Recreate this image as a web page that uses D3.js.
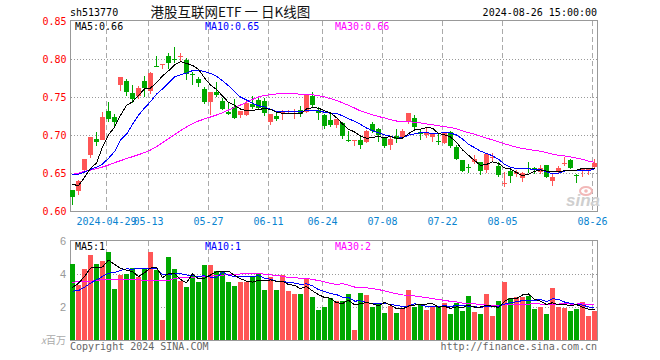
<!DOCTYPE html>
<html><head><meta charset="utf-8">
<script src="https://cdn.jsdelivr.net/npm/d3@7/dist/d3.min.js"></script>
<style>body{margin:0;background:#fff}svg{display:block}</style>
</head><body><svg id="c" width="660" height="360"></svg>
<script>
const dates = ["2024-04-19","2024-04-22","2024-04-23","2024-04-24","2024-04-25","2024-04-26","2024-04-29","2024-04-30",
"2024-05-06","2024-05-07","2024-05-08","2024-05-09","2024-05-10","2024-05-13","2024-05-14","2024-05-15","2024-05-16","2024-05-17",
"2024-05-20","2024-05-21","2024-05-22","2024-05-23","2024-05-24","2024-05-27","2024-05-28","2024-05-29","2024-05-30","2024-05-31",
"2024-06-03","2024-06-04","2024-06-05","2024-06-06","2024-06-07","2024-06-11","2024-06-12","2024-06-13","2024-06-14",
"2024-06-17","2024-06-18","2024-06-19","2024-06-20","2024-06-21","2024-06-24","2024-06-25","2024-06-26","2024-06-27","2024-06-28",
"2024-07-01","2024-07-02","2024-07-03","2024-07-04","2024-07-05","2024-07-08","2024-07-09","2024-07-10","2024-07-11","2024-07-12",
"2024-07-15","2024-07-16","2024-07-17","2024-07-18","2024-07-19","2024-07-22","2024-07-23","2024-07-24","2024-07-25","2024-07-26",
"2024-07-29","2024-07-30","2024-07-31","2024-08-01","2024-08-02","2024-08-05","2024-08-06","2024-08-07","2024-08-08","2024-08-09",
"2024-08-12","2024-08-13","2024-08-14","2024-08-15","2024-08-16","2024-08-19","2024-08-20","2024-08-21","2024-08-22","2024-08-23","2024-08-26"];

const open = [.6276,.6268,.654,.6737,.6952,.6934,.7316,.7232,.7658,.771,.7548,.7513,.771,.7579,.7912,.7917,.804,.8004,.8038,.7987,
.7800,.7737,.7605,.7439,.7561,.7452,.7307,.7373,.7263,.7263,.7404,.746,.7447,.7175,.725,.7303,.7313,.7282,.7329,.7307,
.7518,.7329,.7263,.7197,.7132,.7154,.6938,.6921,.6934,.6912,.714,.7075,.6956,.6868,.6987,.6978,.7162,.7219,.7039,.7,
.6978,.6925,.6899,.7035,.6846,.6671,.6574,.6649,.664,.6539,.6702,.6592,.637,.6526,.6496,.6443,.6565,.6564,.6504,.6605,
.6386,.6518,.6632,.6671,.6478,.6531,.6548,.6583];
const high = [.628,.6408,.6684,.6974,.7035,.7307,.7434,.7276,.7759,.7732,.7658,.7645,.7776,.7833,.804,.7934,.8083,.8154,.8075,.8009,
.7833,.7768,.7636,.757,.7702,.7482,.7439,.7469,.732,.7447,.7513,.7513,.7482,.7276,.7294,.7329,.7333,.7342,.7382,.7526,
.757,.7373,.7276,.7276,.7211,.7175,.7057,.6934,.6978,.7066,.7175,.7088,.6978,.6978,.7075,.7075,.7285,.7263,.7066,.7088,
.7026,.7022,.7044,.7057,.6868,.6671,.6618,.6737,.6649,.675,.6759,.6649,.6518,.6561,.654,.6518,.6649,.6583,.6605,.6605,
.6496,.6592,.6715,.668,.6482,.6561,.6561,.6684];
const low = [.6079,.621,.652,.6693,.6855,.6934,.7175,.711,.7579,.7513,.7425,.747,.7504,.754,.791,.7873,.7873,.7943,.7978,.7724,
.7658,.7636,.7408,.7263,.7504,.7329,.7263,.7206,.7219,.725,.7342,.7329,.725,.7132,.7184,.7197,.7281,.721,.7241,.7294,
.7373,.7197,.7075,.7101,.7088,.6943,.6912,.6855,.6816,.689,.7022,.6912,.6825,.6803,.6899,.6956,.7145,.7066,.6934,.6965,
.6904,.6868,.6882,.6825,.6671,.6518,.6504,.6618,.6474,.6496,.6649,.6443,.6311,.6373,.6443,.6386,.6496,.6487,.6487,.643,
.6333,.6496,.6592,.6548,.6373,.6443,.6474,.6561];
const close = [.6189,.6395,.6684,.6974,.6917,.7237,.7211,.7167,.7759,.757,.7474,.7614,.7623,.7811,.791,.7934,.7943,.8000,.804,.7798,
.7798,.7689,.743,.757,.7518,.7351,.7285,.7232,.732,.7417,.7364,.7351,.7285,.7276,.7211,.7307,.7316,.7285,.7276,.7526,
.7395,.7285,.7118,.7132,.7211,.6987,.6934,.6934,.6868,.7057,.7044,.7000,.6855,.6947,.6943,.7053,.7285,.7101,.7009,.7035,
.7026,.6921,.7031,.6855,.6684,.6531,.657,.6684,.6526,.675,.6706,.6474,.6373,.646,.6518,.6504,.6561,.656,.6561,.6443,
.6443,.657,.6636,.6561,.6474,.6561,.6553,.6636];
const ma5 = [.6351,.6333,.6443,.6561,.6632,.6841,.7005,.7101,.7258,.7389,.7436,.7517,.7608,.7618,.7686,.7778,.7844,.792,.7965,.7943,
.7916,.7865,.7751,.7657,.7601,.7512,.7431,.7391,.7341,.7321,.7324,.7337,.7347,.7339,.7297,.7286,.7279,.7279,.7279,.7342,
.736,.7353,.732,.7291,.7228,.7147,.7076,.704,.6987,.6956,.6967,.6981,.6965,.6981,.6958,.696,.7017,.7066,.7078,.7097,
.7091,.7018,.7004,.6974,.6903,.6804,.6734,.6665,.6599,.6612,.6647,.6628,.6566,.6553,.6506,.6466,.6483,.6521,.6541,.6526,
.6514,.6515,.6531,.6531,.6537,.656,.6557,.6557];
const ma10 = [.6474,.6482,.6513,.6548,.6575,.6618,.6693,.6781,.6934,.701,.7139,.7261,.7355,.7438,.7538,.7607,.7681,.7764,.7792,.7815,
.7847,.7855,.7835,.7811,.7772,.7714,.7648,.7571,.7499,.7461,.7418,.7384,.7369,.734,.7309,.7305,.7308,.7313,.7309,.732,
.7323,.7316,.73,.7285,.7285,.7253,.7215,.718,.7139,.7092,.7057,.7029,.7002,.6984,.6957,.6964,.6999,.7015,.7029,.7027,
.7025,.7018,.7035,.7026,.70,.6948,.6876,.6835,.6786,.6758,.6726,.6681,.6615,.6576,.6559,.6557,.6556,.6543,.6547,.6516,
.649,.6499,.6526,.6536,.6531,.6537,.6536,.6544];
const ma30 = [.6482,.6496,.6522,.6539,.6557,.6579,.6605,.6636,.6662,.6689,.6715,.6741,.6768,.6803,.6846,.6899,.6952,.7004,.7057,.7105,
.7149,.7184,.7211,.7237,.7263,.7294,.7329,.7364,.7395,.7429,.7468,.75,.752,.753,.754,.7542,.7545,.7549,.7533,.7532,
.7529,.7518,.7501,.7479,.7455,.7424,.739,.7355,.7316,.7291,.7266,.7243,.7224,.7203,.7184,.7174,.7174,.7169,.7159,.7146,
.7135,.7121,.7112,.7098,.7081,.7055,.703,.701,.6985,.6959,.6936,.6909,.6884,.6862,.6839,.6823,.681,.6798,.6787,.6767,
.6747,.6733,.6725,.6712,.6697,.668,.6656,.6641];
const volume = [4.58,3.34,4.32,5.13,4.58,4.80,5.35,3.10,3.91,4.03,4.38,3.79,4.30,5.31,4.26,1.22,5.05,4.28,3.55,3.22,
3.95,3.49,4.52,4.52,4.19,4.11,3.49,3.28,3.49,3.49,3.81,4.09,3.04,3.79,3.04,3.91,3.00,2.80,2.80,3.69,
2.63,1.82,1.97,2.53,2.37,2.37,2.80,0.61,2.86,2.74,1.97,2.19,1.64,2.07,1.64,1.86,3.04,1.97,2.19,1.82,
1.97,1.99,2.25,1.58,2.27,1.78,2.67,1.70,1.58,2.80,1.46,2.37,3.53,2.55,2.61,2.61,2.67,1.88,2.01,1.58,
3.16,2.01,1.95,1.76,1.88,2.31,1.46,1.76];
const volMa5 = [3.18,3.44,3.85,4.36,4.39,4.43,4.84,4.59,4.35,4.24,4.15,3.84,4.08,4.36,4.41,3.78,4.03,4.02,3.67,3.46,
4.01,3.70,3.75,3.94,4.13,4.17,4.17,3.92,3.71,3.57,3.51,3.63,3.58,3.64,3.55,3.57,3.36,3.31,3.11,3.24,
2.98,2.75,2.58,2.53,2.26,2.21,2.41,2.14,2.20,2.28,2.20,2.07,2.28,2.12,1.90,1.88,2.05,2.12,2.14,2.18,
2.20,1.99,2.04,1.92,2.01,1.97,2.11,2.00,2.00,2.11,2.04,1.98,2.35,2.54,2.50,2.73,2.79,2.46,2.36,2.15,
2.26,2.13,2.14,2.09,2.15,1.98,1.87,1.83];
const volMa10 = [2.96,3.0,3.2,3.44,3.65,3.85,4.05,4.09,4.21,4.31,4.29,4.34,4.34,4.36,4.32,3.97,3.94,4.05,4.02,3.94,
3.89,3.86,3.89,3.81,3.80,4.09,3.93,3.83,3.83,3.85,3.84,3.90,3.75,3.68,3.56,3.54,3.49,3.45,3.38,3.40,
3.28,3.05,2.95,2.82,2.75,2.60,2.58,2.36,2.37,2.27,2.20,2.24,2.21,2.16,2.09,2.04,2.06,2.20,2.13,2.04,
2.04,2.02,2.08,2.03,2.09,2.09,2.05,2.02,1.96,2.06,2.01,2.05,2.17,2.27,2.31,2.39,2.39,2.41,2.45,2.33,
2.50,2.46,2.30,2.22,2.15,2.12,2.00,1.99];
const volMa30 = [3.51,3.52,3.54,3.56,3.60,3.67,3.69,3.66,3.65,3.65,3.64,3.64,3.63,3.63,3.62,3.62,3.61,3.73,3.77,3.79,
3.81,3.83,3.85,3.87,3.89,3.93,3.97,3.99,4.00,4.03,4.01,4.03,3.99,3.95,3.90,3.87,3.79,3.78,3.74,3.73,
3.67,3.60,3.53,3.43,3.37,3.41,3.33,3.21,3.19,3.17,3.11,3.06,2.97,2.89,2.80,2.73,2.71,2.67,2.62,2.57,
2.51,2.44,2.41,2.34,2.31,2.24,2.23,2.19,2.15,2.12,2.08,2.10,2.15,2.15,2.16,2.17,2.17,2.21,2.18,2.14,
2.18,2.18,2.19,2.18,2.18,2.20,2.15,2.14];
const priceTicks = [0.60,0.65,0.70,0.75,0.80,0.85];
const volTicks = [2,4,6];
const dateTicks = ["2024-04-29","2024-05-13","2024-05-27","2024-06-11","2024-06-24","2024-07-08","2024-07-22","2024-08-05","2024-08-26"];
const dateTickLabels = ["2024-04-29","05-13","05-27","06-11","06-24","07-08","07-22","08-05","08-26"];
const maLabels = ["MA5:0.66","MA10:0.65","MA30:0.66"];
const volMaLabels = ["MA5:1","MA10:1","MA30:2"];

const RED = "#ff5656", GREEN = "#00a800", MACOL = ["#000000","#0000ff","#ff00ff"];
const MONO = "'DejaVu Sans Mono','Liberation Mono',monospace";
const svg = d3.select("#c");
const x = d3.scaleBand().domain(dates).range([70, 598]).padding(0);
const y = d3.scaleLinear().domain([0.60, 0.85]).range([211, 21]);
const yv = d3.scaleLinear().domain([0, 6]).range([340, 241]);
const idx = d3.range(dates.length);
const up = i => close[i] >= open[i];

// frames
function frame(top, bottom){
  svg.append("rect").attr("x",70.5).attr("y",top).attr("width",527).attr("height",bottom-top)
    .attr("fill","none").attr("stroke","#999").attr("shape-rendering","crispEdges");
}
frame(20.5, 211.5);
frame(240.5, 340.5);

// horizontal dotted grid
const g = svg.append("g").attr("stroke","#999").attr("stroke-dasharray","1,2").attr("shape-rendering","crispEdges");
priceTicks.filter(t => t > 0.6 && t < 0.85).forEach(t => {
  const yy = Math.round(y(t)) + 0.5;
  g.append("line").attr("x1",71).attr("x2",597).attr("y1",yy).attr("y2",yy);
});
volTicks.filter(t => t < 6).forEach(t => {
  const yy = Math.round(yv(t)) + 0.5;
  g.append("line").attr("x1",71).attr("x2",597).attr("y1",yy).attr("y2",yy);
});
// vertical dashed grid
const gv = svg.append("g").attr("stroke","#aaa").attr("stroke-dasharray","5,3").attr("shape-rendering","crispEdges");
dateTicks.forEach(d => {
  const xx = x(d) + 0.5;
  gv.append("line").attr("x1",xx).attr("x2",xx).attr("y1",21).attr("y2",211);
  gv.append("line").attr("x1",xx).attr("x2",xx).attr("y1",241).attr("y2",340);
});

// watermark
const wm = svg.append("g");
wm.append("ellipse").attr("cx",586).attr("cy",191).attr("rx",6).attr("ry",4).attr("fill","none").attr("stroke","#f2b8b8").attr("stroke-width",2);
wm.append("circle").attr("cx",586).attr("cy",191).attr("r",1.8).attr("fill","#f2b8b8");
wm.append("text").attr("x",566).attr("y",206).attr("font-family","'Liberation Sans',Arial,sans-serif")
  .attr("font-size",17).attr("font-weight","bold").attr("font-style","italic").attr("fill","#cfcfcf").text("sina");

// candles
const cg = svg.append("g").attr("shape-rendering","crispEdges");
const bw = x.bandwidth() - 1;
idx.forEach(i => {
  const d = dates[i], col = up(i) ? RED : GREEN;
  const cx = x(d) + 2.5;
  cg.append("line").attr("x1",cx).attr("x2",cx).attr("y1",y(high[i])).attr("y2",y(low[i])).attr("stroke",col);
  const y0 = Math.round(Math.min(y(open[i]), y(close[i])));
  const h = Math.max(1, Math.round(Math.abs(y(open[i]) - y(close[i]))));
  cg.append("rect").attr("x",x(d)).attr("y",y0).attr("width",bw).attr("height",h).attr("fill",col);
});
// volume bars
idx.forEach(i => {
  const d = dates[i];
  cg.append("rect").attr("x",x(d)).attr("y",Math.round(yv(volume[i]))).attr("width",bw)
    .attr("height",340 - Math.round(yv(volume[i]))).attr("fill", up(i) ? RED : GREEN);
});

// MA lines
function maLine(arr, scale, col){
  const ln = d3.line().x((v,i) => x(dates[i]) + 2.5).y(v => scale(v));
  svg.append("path").attr("d", ln(arr)).attr("fill","none").attr("stroke",col).attr("stroke-width",1)
    .attr("shape-rendering","crispEdges");
}
maLine(ma30, y, MACOL[2]); maLine(ma10, y, MACOL[1]); maLine(ma5, y, MACOL[0]);
maLine(volMa30, yv, MACOL[2]); maLine(volMa10, yv, MACOL[1]); maLine(volMa5, yv, MACOL[0]);

// texts
function txt(xx, yy, s, opt){
  const t = svg.append("text").attr("x",xx).attr("y",yy).text(s)
    .attr("font-family", opt.family || MONO).attr("font-size", opt.size || 10).attr("fill", opt.fill || "#000");
  if (opt.anchor) t.attr("text-anchor", opt.anchor);
  if (opt.style) t.attr("font-style", opt.style);
  return t;
}
txt(70, 16, "sh513770", {});
txt(150.5, 16.5, "港股互联网ETF 一 日K线图", {family:"'Noto Sans CJK SC',sans-serif", size:13.5, fill:"#111"});
txt(597, 16, "2024-08-26 15:00:00", {anchor:"end"});
[75, 205, 335].forEach((xx, k) => txt(xx, 29.5, maLabels[k], {fill:MACOL[k]}));
[75, 205, 335].forEach((xx, k) => txt(xx, 250, volMaLabels[k], {fill:MACOL[k]}));
priceTicks.forEach(t => txt(66.5, y(t) + 3.5, d3.format(".2f")(t), {anchor:"end", fill:"#ff0000"}));
volTicks.forEach(t => txt(66, yv(t) + 4, String(t), {anchor:"end", fill:"#999", family:"'Liberation Sans',Arial,sans-serif", size:11}));
dateTicks.forEach((d, k) => txt(x(d) + 0.5, 225, dateTickLabels[k], {anchor:"middle", fill:"#0a84d0"}));
const unit = svg.append("text").attr("x",66).attr("y",344).attr("text-anchor","end").attr("fill","#aaa")
  .attr("font-family","'Noto Sans CJK SC',sans-serif").attr("font-size",10);
unit.append("tspan").attr("font-style","italic").text("x");
unit.append("tspan").text("百万");
txt(70, 349.5, "Copyright 2024 SINA.COM", {fill:"#666"});
txt(597, 349.5, "http://finance.sina.com.cn", {anchor:"end", fill:"#666"});
</script></body></html>
